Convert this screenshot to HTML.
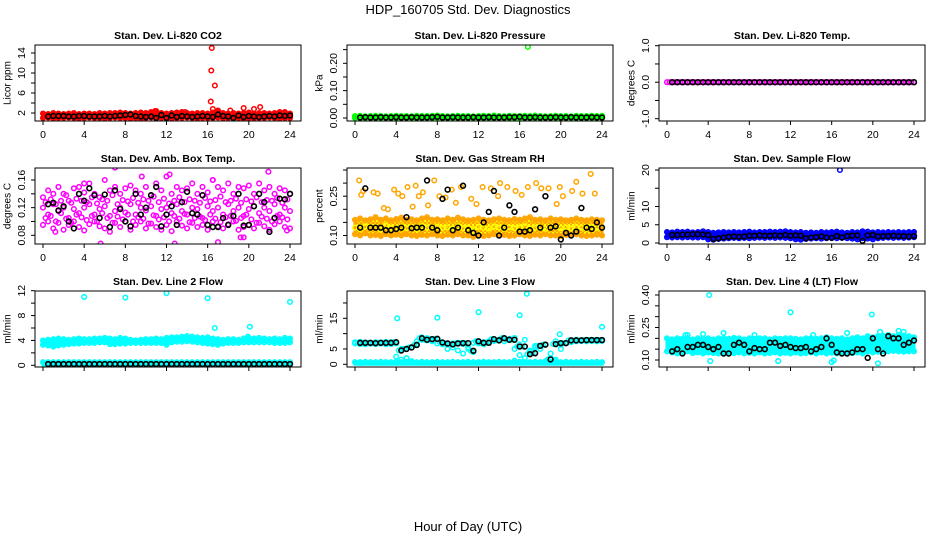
<!DOCTYPE html>
<html><head><meta charset="utf-8"><style>
html,body{margin:0;padding:0;background:#fff;width:936px;height:540px;overflow:hidden}
svg{display:block}
text{font-family:"Liberation Sans",sans-serif}
</style></head><body>
<svg id="chart" width="936" height="540" viewBox="0 0 936 540" xmlns="http://www.w3.org/2000/svg">
<defs>
<pattern id="rhpat" width="4" height="4" patternUnits="userSpaceOnUse">
<rect width="4" height="4" fill="#ffa500"/>
<rect x="0" y="0" width="2" height="2" fill="#ffff00"/>
<rect x="2" y="2" width="2" height="2" fill="#ffd000"/>
</pattern>
</defs>
<text x="468" y="14" font-size="13" text-anchor="middle">HDP_160705  Std. Dev. Diagnostics</text>
<text x="468" y="531" font-size="13" text-anchor="middle">Hour of Day (UTC)</text>
</svg>
<script>
const hours49=[0,0.5,1,1.5,2,2.5,3,3.5,4,4.5,5,5.5,6,6.5,7,7.5,8,8.5,9,9.5,10,10.5,11,11.5,12,12.5,13,13.5,14,14.5,15,15.5,16,16.5,17,17.5,18,18.5,19,19.5,20,20.5,21,21.5,22,22.5,23,23.5,24];
const hoursQ=[0.25,0.75,1.25,1.75,2.25,2.75,3.25,3.75,4.25,4.75,5.25,5.75,6.25,6.75,7.25,7.75,8.25,8.75,9.25,9.75,10.25,10.75,11.25,11.75,12.25,12.75,13.25,13.75,14.25,14.75,15.25,15.75,16.25,16.75,17.25,17.75,18.25,18.75,19.25,19.75,20.25,20.75,21.25,21.75,22.25,22.75,23.25,23.75];
const blackHours=[0.5,1,1.5,2,2.5,3,3.5,4,4.5,5,5.5,6,6.5,7,7.5,8,8.5,9,9.5,10,10.5,11,11.5,12,12.5,13,13.5,14,14.5,15,15.5,16,16.5,17,17.5,18,18.5,19,19.5,20,20.5,21,21.5,22,22.5,23,23.5,24];
const zeros49=[0,0,0,0,0,0,0,0,0,0,0,0,0,0,0,0,0,0,0,0,0,0,0,0,0,0,0,0,0,0,0,0,0,0,0,0,0,0,0,0,0,0,0,0,0,0,0,0,0];
const xTicks=[0,4,8,12,16,20,24];
const xTickLabels=["0","4","8","12","16","20","24"];

const co2Hi=[1.9,1.8,2.0,1.9,1.8,1.9,2.0,1.8,1.9,1.9,1.8,2.0,1.9,2.0,2.0,2.1,2.0,1.9,2.0,2.1,2.0,2.2,2.4,2.0,1.9,2.0,2.1,2.2,2.0,1.9,2.0,2.0,1.9,2.1,2.5,2.0,1.9,2.0,1.9,2.0,2.1,1.9,2.0,2.0,1.9,2.0,2.2,2.0,1.9];
const co2Lo=[1.0,1.1,0.9,1.0,1.0,1.1,1.0,0.9,1.0,1.1,1.0,1.0,0.9,1.0,1.1,1.0,1.0,0.9,1.0,0.8,1.0,1.1,0.9,1.0,1.0,0.9,1.0,1.0,1.1,1.0,0.9,1.0,1.0,1.0,1.1,0.9,1.0,1.0,1.0,0.8,1.0,0.9,1.0,1.0,1.1,1.0,0.9,1.0,1.0];
const co2OutX=[10.9,13.8,16.3,16.35,16.4,16.5,16.7,18.2,19.5,20.5,21.1,23.5];
const co2OutY=[2.4,2.2,4.3,10.5,15,2.8,7.5,2.5,3.0,2.8,3.2,2.2];
const co2Black=[1.3,1.4,1.4,1.4,1.3,1.3,1.4,1.4,1.3,1.3,1.3,1.4,1.3,1.4,1.5,1.6,1.7,1.4,1.3,1.2,1.3,1.0,1.6,1.0,1.5,1.2,1.4,1.3,1.2,1.3,1.4,1.3,1.2,1.7,1.4,1.3,1.0,1.5,1.2,1.4,1.3,1.2,1.3,1.4,1.3,1.5,1.4,1.5];

const prHi=[0.007,0.008,0.006,0.007,0.008,0.007,0.006,0.007,0.008,0.007,0.007,0.006,0.008,0.007,0.007,0.008,0.009,0.007,0.006,0.007,0.008,0.007,0.007,0.006,0.007,0.008,0.007,0.009,0.007,0.006,0.008,0.007,0.007,0.008,0.007,0.009,0.007,0.006,0.007,0.008,0.007,0.007,0.006,0.008,0.007,0.007,0.008,0.007,0.008];
const prOutX=[16.8];
const prOutY=[0.26];
const prBlack=[0.002,0.003,0.002,0.002,0.003,0.002,0.002,0.003,0.002,0.002,0.003,0.002,0.002,0.002,0.003,0.004,0.002,0.002,0.003,0.002,0.002,0.002,0.003,0.002,0.002,0.003,0.002,0.002,0.002,0.003,0.003,0.004,0.002,0.002,0.003,0.002,0.002,0.002,0.003,0.002,0.002,0.003,0.002,0.002,0.002,0.003,0.002,0.002];

const tmpBlack=[0,0,0,0,0,0,0,0,0,0,0,0,0,0,0,0,0,0,0,0,0,0,0,0,0,0,0,0,0,0,0,0,0,0,0,0,0,0,0,0,0,0,0,0,0,0,0,0];

const ambA=[0.135,0.145,0.14,0.15,0.14,0.13,0.148,0.15,0.142,0.155,0.14,0.135,0.16,0.145,0.15,0.14,0.148,0.152,0.145,0.14,0.15,0.138,0.155,0.145,0.165,0.14,0.15,0.145,0.148,0.155,0.14,0.15,0.142,0.16,0.15,0.145,0.155,0.14,0.15,0.148,0.152,0.14,0.155,0.145,0.15,0.14,0.148,0.145,0.14];
const ambB=[0.12,0.11,0.125,0.115,0.12,0.105,0.118,0.112,0.12,0.125,0.11,0.118,0.122,0.108,0.115,0.12,0.113,0.125,0.11,0.12,0.116,0.122,0.108,0.118,0.12,0.112,0.125,0.115,0.11,0.12,0.118,0.105,0.122,0.115,0.12,0.11,0.125,0.115,0.12,0.108,0.118,0.122,0.112,0.12,0.115,0.125,0.11,0.12,0.115];
const ambC=[0.095,0.1,0.09,0.098,0.088,0.095,0.1,0.092,0.087,0.096,0.1,0.093,0.09,0.085,0.098,0.092,0.1,0.088,0.095,0.1,0.09,0.097,0.092,0.088,0.095,0.086,0.1,0.094,0.09,0.098,0.092,0.095,0.088,0.1,0.093,0.09,0.096,0.1,0.088,0.092,0.095,0.09,0.098,0.093,0.088,0.096,0.1,0.092,0.09];
const ambD=[0.128,0.132,0.125,0.13,0.138,0.127,0.133,0.13,0.128,0.135,0.126,0.132,0.13,0.138,0.125,0.131,0.129,0.134,0.127,0.132,0.13,0.136,0.128,0.133,0.126,0.13,0.135,0.128,0.132,0.13,0.127,0.134,0.129,0.131,0.136,0.128,0.13,0.133,0.127,0.132,0.129,0.135,0.128,0.131,0.13,0.134,0.127,0.132];
const ambE=[0.105,0.108,0.1,0.112,0.104,0.098,0.11,0.106,0.102,0.108,0.1,0.112,0.105,0.098,0.107,0.103,0.11,0.1,0.106,0.104,0.097,0.109,0.103,0.106,0.1,0.108,0.104,0.111,0.099,0.105,0.107,0.102,0.11,0.104,0.099,0.106,0.108,0.101,0.105,0.11,0.103,0.098,0.107,0.104,0.1,0.108,0.106,0.103];
const ambOutX=[5.6,12.8,17,4,9.6,12.3,21.9,7,19.2,19.5,23.7,1.2,16.5];
const ambOutY=[0.068,0.068,0.07,0.155,0.165,0.168,0.172,0.178,0.077,0.077,0.087,0.085,0.16];
const ambBlack=[0.125,0.127,0.116,0.122,0.1,0.09,0.14,0.13,0.148,0.138,0.105,0.139,0.092,0.145,0.118,0.1,0.093,0.14,0.11,0.12,0.138,0.15,0.093,0.11,0.122,0.095,0.128,0.143,0.112,0.11,0.138,0.095,0.092,0.092,0.105,0.095,0.108,0.14,0.094,0.095,0.122,0.14,0.128,0.085,0.105,0.133,0.132,0.14];

const rhHi=[0.16,0.165,0.158,0.162,0.17,0.16,0.165,0.158,0.163,0.168,0.16,0.162,0.158,0.165,0.17,0.16,0.162,0.158,0.165,0.16,0.168,0.162,0.158,0.16,0.165,0.16,0.158,0.162,0.165,0.16,0.158,0.163,0.16,0.165,0.17,0.16,0.162,0.158,0.165,0.16,0.162,0.158,0.16,0.165,0.16,0.158,0.162,0.16,0.158];
const rhLo=[0.105,0.1,0.108,0.1,0.102,0.098,0.105,0.1,0.103,0.1,0.105,0.1,0.098,0.102,0.1,0.105,0.1,0.098,0.103,0.1,0.105,0.1,0.1,0.095,0.1,0.098,0.1,0.105,0.1,0.102,0.098,0.1,0.105,0.1,0.098,0.103,0.1,0.105,0.1,0.1,0.098,0.102,0.1,0.105,0.1,0.098,0.1,0.103,0.1];
const rhMid=[0.13,0.125,0.135,0.128,0.132,0.122,0.138,0.13,0.126,0.134,0.128,0.13,0.125,0.136,0.13,0.127,0.133,0.129,0.131,0.126,0.135,0.128,0.13,0.124,0.133,0.129,0.127,0.134,0.13,0.126,0.132,0.128,0.131,0.135,0.127,0.13,0.133,0.126,0.129,0.134,0.128,0.131,0.127,0.133,0.13,0.126,0.132,0.129,0.13];
const rhOutX=[0.4,0.6,0.8,1.8,2.2,2.8,3.2,3.8,4.2,4.6,5.1,5.6,5.9,6.2,6.6,7.1,7.7,8.2,8.8,9.4,9.8,10.3,11.3,11.8,12.4,13.2,13.9,14.1,14.8,15.6,16.2,16.8,17.6,18.1,18.8,19.6,19.9,20.2,21.1,21.5,22.1,22.9,23.3];
const rhOutY=[0.31,0.255,0.27,0.265,0.26,0.205,0.2,0.275,0.26,0.25,0.285,0.21,0.29,0.25,0.265,0.215,0.31,0.25,0.245,0.275,0.225,0.285,0.24,0.22,0.285,0.28,0.25,0.3,0.285,0.27,0.255,0.285,0.3,0.28,0.28,0.22,0.285,0.25,0.27,0.305,0.26,0.335,0.26];
const rhBlack=[0.13,0.28,0.13,0.13,0.13,0.12,0.12,0.125,0.13,0.17,0.128,0.13,0.13,0.31,0.13,0.12,0.24,0.275,0.12,0.13,0.29,0.12,0.11,0.1,0.15,0.19,0.27,0.1,0.13,0.215,0.19,0.115,0.115,0.12,0.2,0.13,0.25,0.13,0.135,0.085,0.11,0.1,0.115,0.205,0.13,0.125,0.15,0.13];

const sfHi=[3.0,2.9,3.1,3.0,3.1,2.9,3.0,3.2,3.0,2.8,2.9,3.0,2.9,3.0,2.9,3.0,3.1,2.9,3.0,3.0,3.1,3.0,3.1,3.2,3.0,2.9,3.0,2.8,2.9,2.8,3.0,2.9,3.0,3.1,2.9,2.8,3.0,2.9,3.2,3.1,2.9,3.0,2.9,3.0,2.9,3.0,2.9,3.0,3.0];
const sfLo=[1.6,1.5,1.6,1.5,1.6,1.5,1.5,1.6,1.0,0.9,1.1,1.2,1.3,1.4,1.3,1.4,1.3,1.4,1.5,1.4,1.5,1.4,1.5,1.4,1.3,1.0,0.9,1.1,1.2,1.3,1.2,1.3,1.4,1.3,1.4,1.3,1.2,1.0,1.3,1.2,1.0,1.3,1.4,1.5,1.4,1.5,1.4,1.5,1.6];
const sfOutX=[16.8];
const sfOutY=[20];
const sfBlack=[2.2,2.2,2.3,2.3,2.4,2.4,2.3,2.2,1.1,1.3,1.5,1.7,1.8,1.7,1.8,2.0,2.0,2.1,2.0,2.0,2.1,2.0,2.2,2.0,2.1,2.0,1.3,1.5,1.6,1.8,1.5,1.4,1.9,1.5,1.9,2.0,2.1,0.6,2.1,2.2,1.8,1.9,1.9,2.0,1.9,1.9,1.8,1.9];

const l2Hi=[4.0,4.1,4.2,4.3,4.2,4.1,4.2,4.3,4.2,4.2,4.3,4.3,4.4,4.3,4.2,4.4,4.3,4.1,4.0,4.1,4.2,4.2,4.3,4.2,4.4,4.5,4.5,4.6,4.7,4.6,4.5,4.4,4.5,4.3,4.2,4.1,4.2,4.2,4.1,4.3,4.4,4.3,4.4,4.3,4.2,4.3,4.2,4.4,4.3];
const l2Lo=[3.3,3.2,3.0,3.2,3.3,3.4,3.5,3.5,3.6,3.6,3.6,3.7,3.7,3.4,3.4,3.5,3.5,3.6,3.6,3.6,3.6,3.6,3.6,3.6,3.3,3.7,3.8,3.8,3.9,3.8,3.7,3.6,3.5,3.4,3.3,3.5,3.6,3.6,3.6,3.7,3.7,3.7,3.7,3.7,3.7,3.6,3.6,3.6,3.7];
const l2BaseHi=[0.5,0.5,0.5,0.5,0.5,0.5,0.5,0.5,0.5,0.5,0.5,0.5,0.5,0.5,0.5,0.5,0.5,0.5,0.5,0.5,0.5,0.5,0.5,0.5,0.5,0.5,0.5,0.5,0.5,0.5,0.5,0.5,0.5,0.5,0.5,0.5,0.5,0.5,0.5,0.5,0.5,0.5,0.5,0.5,0.5,0.5,0.5,0.5,0.5];
const l2OutX=[4,8,12,16,16.7,19.9,20.1,24];
const l2OutY=[11,10.9,11.6,10.8,6,4.6,6.2,10.2];
const l2Black=[0.2,0.2,0.2,0.2,0.2,0.2,0.2,0.2,0.2,0.2,0.2,0.2,0.2,0.2,0.2,0.2,0.2,0.2,0.2,0.2,0.2,0.2,0.2,0.2,0.2,0.2,0.2,0.2,0.2,0.2,0.2,0.2,0.2,0.2,0.2,0.2,0.2,0.2,0.2,0.2,0.2,0.2,0.2,0.2,0.2,0.2,0.2,0.2];

const l3Cy=[7.2,7.3,7.1,7.0,7.2,7.1,7.3,7.2,6.8,5.0,2.0,5.5,6.5,8.8,8.5,8.0,8.2,7.2,6.5,6.8,7.0,6.6,5.5,4.0,7.6,7.2,7.0,8.2,8.0,8.5,8.3,8.6,6.5,8.0,4.0,5.5,6.0,6.5,2.0,7.5,5.0,7.0,7.5,8.0,7.8,7.9,8.0,7.8,7.9];
const l3Cy2=[6.8,6.6,6.5,6.7,6.6,6.8,6.5,6.6,2.5,1.5,2.0,1.0,7.5,8.0,7.8,7.5,6.8,6.5,5.0,5.5,4.5,3.5,5.0,7.0,6.8,6.5,7.5,7.6,8.0,7.5,8.0,5.0,3.0,2.0,4.5,6.0,5.0,1.0,3.5,1.5,6.5,7.0,7.2,7.5,7.6,7.5,7.6,7.5,7.6];
const l3BaseHi=[0.7,0.7,0.8,0.7,0.7,0.8,0.7,0.7,0.8,0.7,0.8,0.7,0.7,0.8,0.7,0.7,0.8,0.7,0.7,0.8,0.7,0.7,0.8,0.7,0.7,0.8,0.7,0.7,0.8,0.7,0.7,1.2,0.8,0.7,0.7,0.8,0.7,0.7,0.8,1.0,0.7,0.8,0.7,0.7,0.8,0.7,0.7,0.8,0.7];
const l3OutX=[4.1,8,12,16,16.7,19.9,24];
const l3OutY=[15,15.2,17,16,23,9.8,12.2];
const l3Black=[7,7,7,6.9,7,7,7,7.2,4.5,5,5.5,6.3,8.5,8,8.2,8.3,7.1,6.8,6.5,6.8,6.9,6.9,4.4,7.5,7,7,8.2,7.8,8.5,8,8,5.8,5.8,3.3,3.6,6,6.4,1.6,6.6,6.9,6.9,7.8,7.8,7.8,7.9,7.9,7.9,7.9];

const l4Hi=[0.2,0.195,0.2,0.198,0.2,0.195,0.2,0.198,0.2,0.195,0.2,0.2,0.198,0.202,0.2,0.195,0.2,0.198,0.2,0.2,0.195,0.2,0.198,0.2,0.2,0.198,0.195,0.2,0.2,0.198,0.2,0.205,0.2,0.198,0.2,0.195,0.2,0.205,0.2,0.21,0.205,0.21,0.212,0.215,0.21,0.215,0.212,0.21,0.205];
const l4Lo=[0.14,0.135,0.13,0.135,0.14,0.132,0.135,0.13,0.135,0.132,0.13,0.135,0.13,0.132,0.135,0.13,0.133,0.13,0.135,0.13,0.132,0.135,0.13,0.133,0.13,0.135,0.13,0.132,0.135,0.13,0.135,0.13,0.133,0.13,0.135,0.13,0.132,0.135,0.13,0.14,0.135,0.138,0.14,0.14,0.142,0.14,0.138,0.14,0.14];
const l4OutX=[4.1,12,19.9,2,5.5,8.5,14.2,17.5,20.7,23,1.8,4.2,16,16.2,20.5,10.8,3.5,22.5];
const l4OutY=[0.40,0.32,0.31,0.215,0.225,0.215,0.215,0.225,0.23,0.23,0.215,0.095,0.09,0.098,0.085,0.095,0.22,0.235];
const l4Black=[0.14,0.15,0.13,0.16,0.16,0.17,0.17,0.16,0.15,0.16,0.13,0.13,0.17,0.18,0.17,0.14,0.155,0.15,0.15,0.18,0.18,0.165,0.17,0.16,0.155,0.155,0.16,0.14,0.15,0.16,0.2,0.17,0.135,0.13,0.13,0.135,0.15,0.15,0.11,0.2,0.15,0.13,0.21,0.2,0.2,0.17,0.18,0.19];

const panels=[
 {name:"co2",col:0,row:0,title:"Stan. Dev. Li-820 CO2",ylab:"Licor ppm",v0:2,p0:113,v1:14,p1:53,
  ticks:[2,4,6,8,10,12,14],labels:["2","","6","","10","","14"],
  bands:[[co2Hi,co2Lo,"#ff0000"]],series:[[hours49,co2Hi,"#ff0000"],[hours49,co2Lo,"#ff0000"],[co2OutX,co2OutY,"#ff0000"]],black:co2Black},
 {name:"pressure",col:1,row:0,title:"Stan. Dev. Li-820 Pressure",ylab:"kPa",v0:0,p0:118,v1:0.2,p1:63.3,
  ticks:[0,0.05,0.1,0.15,0.2,0.25],labels:["0.00","","0.10","","0.20",""],
  bands:[[prHi,zeros49,"#00ff00"]],series:[[hours49,prHi,"#00ff00"],[hours49,zeros49,"#00ff00"],[prOutX,prOutY,"#00ff00"]],black:prBlack},
 {name:"temp",col:2,row:0,title:"Stan. Dev. Li-820 Temp.",ylab:"degrees C",v0:-1,p0:118.7,v1:1,p1:45.7,
  ticks:[-1,-0.5,0,0.5,1],labels:["-1.0","","0.0","","1.0"],
  bands:[],series:[[hours49,zeros49,"#ff00ff"],[hoursQ,tmpBlack,"#ff00ff"]],black:tmpBlack},
 {name:"amb-box-temp",col:0,row:1,title:"Stan. Dev. Amb. Box Temp.",ylab:"degrees C",v0:0.08,p0:235.3,v1:0.16,p1:180,
  ticks:[0.08,0.1,0.12,0.14,0.16],labels:["0.08","","0.12","","0.16"],
  bands:[],series:[[hours49,ambA,"#ff00ff"],[hours49,ambB,"#ff00ff"],[hours49,ambC,"#ff00ff"],[hoursQ,ambD,"#ff00ff"],[hoursQ,ambE,"#ff00ff"],[ambOutX,ambOutY,"#ff00ff"]],black:ambBlack},
 {name:"gas-stream-rh",col:1,row:1,title:"Stan. Dev. Gas Stream RH",ylab:"percent",v0:0.1,p0:235.5,v1:0.35,p1:170,
  ticks:[0.1,0.15,0.2,0.25,0.3,0.35],labels:["0.10","","","0.25","",""],
  bands:[[rhHi,rhLo,"url(#rhpat)"]],series:[[hours49,rhHi,"#ffa500"],[hours49,rhLo,"#ffa500"],[hours49,rhMid,"#ffff00"],[rhOutX,rhOutY,"#ffa500"]],black:rhBlack},
 {name:"sample-flow",col:2,row:1,title:"Stan. Dev. Sample Flow",ylab:"ml/min",v0:0,p0:243,v1:20,p1:170,
  ticks:[0,5,10,15,20],labels:["0","5","10","","20"],
  bands:[[sfHi,sfLo,"#0000ff"]],series:[[hours49,sfHi,"#0000ff"],[hours49,sfLo,"#0000ff"],[sfOutX,sfOutY,"#0000ff"]],black:sfBlack},
 {name:"line2-flow",col:0,row:2,title:"Stan. Dev. Line 2 Flow",ylab:"ml/min",v0:0,p0:365.3,v1:12,p1:290.7,noXLabels:true,
  ticks:[0,2,4,6,8,10,12],labels:["0","","4","","8","","12"],
  bands:[[l2Hi,l2Lo,"#00ffff"],[l2BaseHi,zeros49,"#00ffff"]],series:[[hours49,l2Hi,"#00ffff"],[hours49,l2Lo,"#00ffff"],[hours49,l2BaseHi,"#00ffff"],[l2OutX,l2OutY,"#00ffff"]],black:l2Black},
 {name:"line3-flow",col:1,row:2,title:"Stan. Dev. Line 3 Flow",ylab:"ml/min",v0:0,p0:364.3,v1:15,p1:318.3,noXLabels:true,
  ticks:[0,5,10,15,20],labels:["0","5","","15",""],
  bands:[[l3BaseHi,zeros49,"#00ffff"]],series:[[hours49,l3Cy,"#00ffff"],[hours49,l3Cy2,"#00ffff"],[hoursQ,l3Black,"#00ffff"],[hours49,l3BaseHi,"#00ffff"],[l3OutX,l3OutY,"#00ffff"]],black:l3Black},
 {name:"line4-flow",col:2,row:2,title:"Stan. Dev. Line 4 (LT) Flow",ylab:"ml/min",v0:0.1,p0:360,v1:0.4,p1:295,noXLabels:true,
  ticks:[0.1,0.15,0.2,0.25,0.3,0.35,0.4],labels:["0.10","","","0.25","","","0.40"],
  bands:[[l4Hi,l4Lo,"#00ffff"]],series:[[hours49,l4Hi,"#00ffff"],[hours49,l4Lo,"#00ffff"],[l4OutX,l4OutY,"#00ffff"]],black:l4Black}
];

const NS="http://www.w3.org/2000/svg";
const svg=document.getElementById('chart');
const rowTops=[45,168,291], rowBots=[121,244,367];
function mk(tag,attrs,parent){const e=document.createElementNS(NS,tag);for(const k in attrs)e.setAttribute(k,attrs[k]);(parent||svg).appendChild(e);return e;}

panels.forEach(p=>{
  const left=35+312*p.col, right=301+312*p.col, top=rowTops[p.row], bot=rowBots[p.row];
  const xs=h=>43+312*p.col+h*(247/24);
  const ys=v=>p.p0+(v-p.v0)*(p.p1-p.p0)/(p.v1-p.v0);
  const g=mk('g',{});
  
  
  const clip=mk('clipPath',{id:'clip-'+p.name},g);
  mk('rect',{x:left,y:top,width:right-left,height:bot-top},clip);
  const plot=mk('g',{'clip-path':'url(#clip-'+p.name+')'},g);
  
  
  p.bands.forEach(b=>{
    const hi=b[0], lo=b[1]; let pts=[];
    for(let i=0;i<hours49.length;i++) pts.push(xs(hours49[i])+','+ys(hi[i]));
    for(let i=hours49.length-1;i>=0;i--) pts.push(xs(hours49[i])+','+ys(lo[i]));
    const poly=mk('polygon',{points:pts.join(' '),fill:b[2],stroke:b[2].startsWith('url')?'#ffa500':b[2],'stroke-width':3},plot);
    
    
  });
  p.series.forEach(s=>{
    const X=s[0],Y=s[1]; const n=Math.min(X.length,Y.length);
    for(let i=0;i<n;i++){
      const c=mk('circle',{cx:xs(X[i]),cy:ys(Y[i]),r:2.3,fill:'none',stroke:s[2],'stroke-width':1.5},plot);
      
      
    }
  });
  const nb=Math.min(blackHours.length,p.black.length);
  for(let i=0;i<nb;i++){
    const c=mk('circle',{cx:xs(blackHours[i]),cy:ys(p.black[i]),r:2.4,fill:'none',stroke:'#000','stroke-width':1.6},plot);
    
    
  }
  const box=mk('rect',{x:left,y:top,width:right-left,height:bot-top,fill:'none',stroke:'#000','stroke-width':1},g);
  
  
  const t=mk('text',{x:(left+right)/2,y:top-6,'font-size':10.5,'font-weight':'bold','text-anchor':'middle'},g);
  t.textContent=p.title;
  
  
  xTicks.forEach((v,i)=>{
    const x=xs(v);
    const tk=mk('line',{x1:x,x2:x,y1:bot,y2:bot+4,stroke:'#000','stroke-width':1},g);
    
    
    if(!p.noXLabels){
      const tl=mk('text',{x:x,y:bot+17,'font-size':10.5,'text-anchor':'middle'},g);
      tl.textContent=xTickLabels[i];
      
      
    }
  });
  p.ticks.forEach((v,i)=>{
    const y=ys(v);
    const tk=mk('line',{x1:left-4,x2:left,y1:y,y2:y,stroke:'#000','stroke-width':1},g);
    
    
    if(p.labels[i]){
      const lx=left-13;
      const tl=mk('text',{x:lx,y:y,'font-size':10.5,'text-anchor':'middle','dominant-baseline':'central',transform:'rotate(-90 '+lx+' '+y+')'},g);
      tl.textContent=p.labels[i];
      
      
    }
  });
  const ly=(top+bot)/2, lx=left-27;
  const yl=mk('text',{x:lx,y:ly,'font-size':10,'text-anchor':'middle','dominant-baseline':'central',transform:'rotate(-90 '+lx+' '+ly+')'},g);
  yl.textContent=p.ylab;
  
  
});
</script>
</body></html>
